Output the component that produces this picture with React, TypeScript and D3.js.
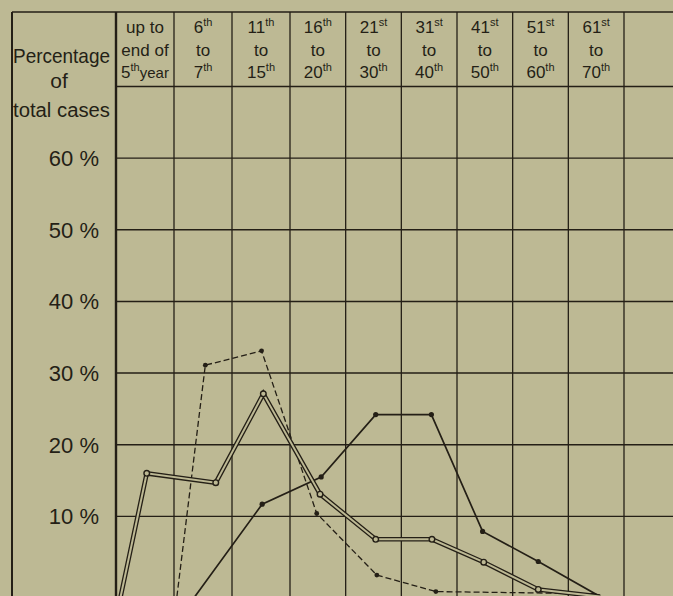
import React from 'react';
import * as d3 from 'd3';

// ---- data ----
const headerTop: [string, string][] = [
  ['up to', ''], ['6', 'th'], ['11', 'th'], ['16', 'th'], ['21', 'st'],
  ['31', 'st'], ['41', 'st'], ['51', 'st'], ['61', 'st'],
];
const headerMid = ['end of', 'to', 'to', 'to', 'to', 'to', 'to', 'to', 'to'];
const headerBot: [string, string, string][] = [
  ['5', 'th', 'year'], ['7', 'th', ''], ['15', 'th', ''], ['20', 'th', ''], ['30', 'th', ''],
  ['40', 'th', ''], ['50', 'th', ''], ['60', 'th', ''], ['70', 'th', ''],
];
const yTicks = [60, 50, 40, 30, 20, 10];
const yLabelLines = ['Percentage', 'of', 'total cases'];

// x = position in column units (0 = left edge of first age column)
const doubleX = [0.08, 0.53, 1.72, 2.54, 3.54, 4.54, 5.55, 6.48, 7.46, 8.57];
const doubleY = [-1.2, 16.0, 14.7, 27.1, 13.1, 6.8, 6.8, 3.6, -0.2, -1.2];
const solidX = [1.36, 2.52, 3.56, 4.54, 5.54, 6.46, 7.46, 8.57];
const solidY = [-1.2, 11.7, 15.5, 24.2, 24.2, 7.9, 3.7, -1.2];
const dashedX = [1.05, 1.54, 2.51, 3.48, 4.56, 5.62, 8.5];
const dashedY = [-1.2, 31.1, 33.1, 10.4, 1.8, -0.5, -0.8];

const W = 673;
const H = 596;
const BG = '#bdb994';
const INK = '#241f16';
const FONT = '"Liberation Sans", Arial, sans-serif';

export default function App() {
  const x = d3.scaleLinear().domain([0, 3, 9, 10]).range([116, 290, 624, 680]);
  const y = d3.scaleLinear().domain([0, 70]).range([588, 86.5]);
  const frameLeft = 12;
  const frameTop = 12;
  const colCount = headerTop.length;
  const colBounds = d3.range(0, colCount + 1);
  const line = d3.line<[number, number]>().x((d) => x(d[0])).y((d) => y(d[1]));
  const dbl = d3.zip(doubleX, doubleY) as [number, number][];
  const sol = d3.zip(solidX, solidY) as [number, number][];
  const dsh = d3.zip(dashedX, dashedY) as [number, number][];

  const sup = (s: string) =>
    s ? (
      <tspan fontSize={11} dy={-7}>{s}</tspan>
    ) : null;

  return (
    <svg width={W} height={H} style={{ position: 'absolute', left: 0, top: 0, background: BG }}>
      <rect x={0} y={0} width={W} height={H} fill={BG} />
      {/* frame */}
      <line x1={frameLeft} x2={frameLeft} y1={frameTop} y2={H + 5} stroke={INK} strokeWidth={2} />
      <line x1={frameLeft} x2={W} y1={frameTop} y2={frameTop} stroke={INK} strokeWidth={1.6} />
      {/* vertical column lines */}
      {colBounds.map((c) => (
        <line key={'v' + c} x1={x(c)} x2={x(c)} y1={frameTop} y2={H + 5} stroke={INK}
          strokeWidth={c === 0 ? 2.4 : 1.3} />
      ))}
      {/* horizontal grid lines incl. header bottom (70) */}
      {[...yTicks, 70].map((t) => (
        <line key={'h' + t} x1={x(0)} x2={W} y1={y(t)} y2={y(t)} stroke={INK} strokeWidth={1.4} />
      ))}
      {/* y tick labels */}
      {yTicks.map((t) => (
        <text key={'yl' + t} x={99} y={y(t) + 8} textAnchor="end" fontFamily={FONT} fontSize={22} fill={INK}>
          {t} %
        </text>
      ))}
      {/* left header */}
      <text x={61.5} y={63} textAnchor="middle" fontFamily={FONT} fontSize={21} fill={INK}
        textLength={97} lengthAdjust="spacingAndGlyphs">{yLabelLines[0]}</text>
      <text x={59} y={88} textAnchor="middle" fontFamily={FONT} fontSize={21} fill={INK}>{yLabelLines[1]}</text>
      <text x={61.5} y={117} textAnchor="middle" fontFamily={FONT} fontSize={20} fill={INK}
        textLength={97} lengthAdjust="spacingAndGlyphs">{yLabelLines[2]}</text>
      {/* column headers */}
      {headerTop.map((h, i) => {
        const cx = (x(i) + x(i + 1)) / 2;
        const b = headerBot[i];
        return (
          <g key={'hd' + i} fontFamily={FONT} fontSize={17} fill={INK}>
            <text x={cx} y={33} textAnchor="middle">{h[0]}{sup(h[1])}</text>
            <text x={cx} y={56} textAnchor="middle">{headerMid[i]}</text>
            <text x={cx} y={78} textAnchor="middle">
              {b[0]}{sup(b[1])}
              {b[2] ? <tspan dy={7} fontSize={15}>{b[2]}</tspan> : null}
            </text>
          </g>
        );
      })}
      {/* dashed series */}
      <path d={line(dsh) || ''} fill="none" stroke={INK} strokeWidth={1.3} strokeDasharray="6,3" />
      {dsh.slice(1, -1).map((d, i) => (
        <circle key={'dd' + i} cx={x(d[0])} cy={y(d[1])} r={2.4} fill={INK} />
      ))}
      {/* solid series */}
      <path d={line(sol) || ''} fill="none" stroke={INK} strokeWidth={1.7} />
      {sol.slice(1, -1).map((d, i) => (
        <circle key={'sd' + i} cx={x(d[0])} cy={y(d[1])} r={2.6} fill={INK} />
      ))}
      {/* double series */}
      <path d={line(dbl) || ''} fill="none" stroke={INK} strokeWidth={4.6} strokeLinejoin="miter" />
      <path d={line(dbl) || ''} fill="none" stroke={BG} strokeWidth={2} strokeLinejoin="miter" />
      {dbl.slice(1, -1).map((d, i) => (
        <circle key={'db' + i} cx={x(d[0])} cy={y(d[1])} r={2.8} fill={BG} stroke={INK} strokeWidth={1.4} />
      ))}
    </svg>
  );
}
